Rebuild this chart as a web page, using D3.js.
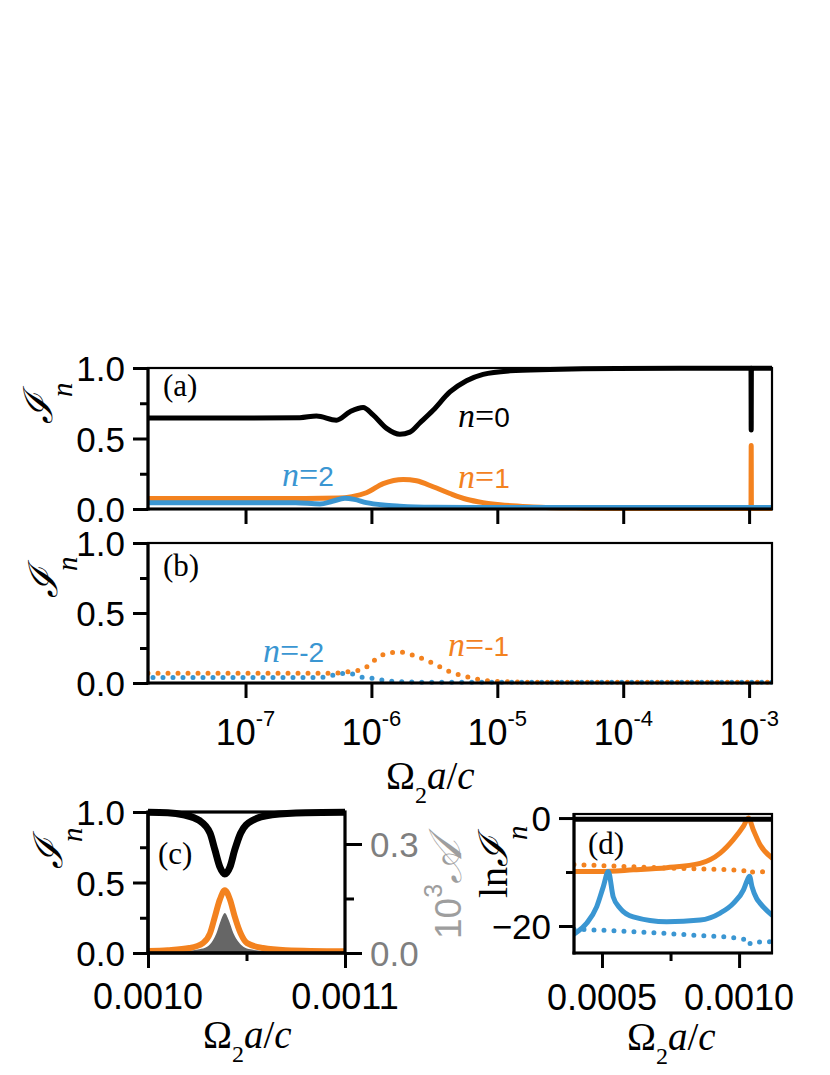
<!DOCTYPE html>
<html><head><meta charset="utf-8">
<script src="https://cdn.jsdelivr.net/npm/d3@7"></script>
<style>body{margin:0;background:#fff} svg{display:block}</style>
</head><body><svg id="chart" width="830" height="1075"></svg>
<script>
// ---------------- DATA ----------------
// panels (a),(b): x = Omega_2 a / c (log scale)
const xLogDomain = [1.68e-8, 1.52e-3];
const xLogTicks = [1e-7, 1e-6, 1e-5, 1e-4, 1e-3];
const xLogTickExp = ["-7", "-6", "-5", "-4", "-3"];
const yIntTicks = [0, 0.5, 1.0];
const yIntMinor = [0.25, 0.75];

const n0A = [[1.68e-8,0.645],[1e-7,0.645],[2.7e-7,0.648],[3.66e-7,0.66],[5.27e-7,0.63],[6.76e-7,0.69],[8.59e-7,0.72],[1.03e-6,0.667],[1.32e-6,0.572],[1.68e-6,0.53],[2.02e-6,0.545],[2.42e-6,0.61],[3.09e-6,0.70],[4.2e-6,0.83],[5.69e-6,0.91],[7.71e-6,0.955],[1.26e-5,0.98],[2.61e-5,0.99],[8.85e-5,0.997],[1.035e-3,0.998],[1.039e-3,0.56],[1.043e-3,0.998],[1.52e-3,0.998]];
const n1A = [[1.68e-8,0.075],[3e-7,0.075],[5.5e-7,0.078],[7e-7,0.088],[9.12e-7,0.115],[1.24e-6,0.18],[1.79e-6,0.21],[2.28e-6,0.20],[3.09e-6,0.158],[4.2e-6,0.11],[5.69e-6,0.069],[7.71e-6,0.045],[1.05e-5,0.03],[1.92e-5,0.015],[4.8e-5,0.006],[1.2e-4,0.003],[1.035e-3,0.003],[1.039e-3,0.45],[1.043e-3,0.003],[1.52e-3,0.003]];
const n2A = [[1.68e-8,0.045],[2.5e-7,0.045],[3.9e-7,0.036],[4.9e-7,0.055],[6.15e-7,0.076],[7.3e-7,0.068],[9.1e-7,0.045],[1.24e-6,0.028],[1.68e-6,0.02],[3.09e-6,0.012],[6e-6,0.01],[1.52e-3,0.01]];
const nm1B = [[1.68e-8,0.07],[5e-7,0.07],[7.1e-7,0.085],[8.6e-7,0.098],[1.0e-6,0.145],[1.16e-6,0.19],[1.4e-6,0.215],[1.68e-6,0.22],[2.28e-6,0.19],[3.09e-6,0.14],[4.2e-6,0.08],[5.69e-6,0.045],[7.71e-6,0.02],[1.05e-5,0.01],[1.92e-5,0.006],[1.52e-3,0.006]];
const nm2B = [[1.68e-8,0.04],[4e-7,0.04],[4.95e-7,0.055],[5.9e-7,0.068],[7.1e-7,0.065],[8.6e-7,0.04],[1.03e-6,0.033],[1.24e-6,0.02],[1.5e-6,0.012],[2.5e-6,0.006],[1.52e-3,0.006]];

// panel (c): linear x
const xCDomain = [0.001, 0.0011];
const xCTicks = [0.001, 0.0011];
const xCTickLabels = ["0.0010", "0.0011"];
const xCMinor = [0.00105];
const yCRightDomain = [0, 0.388];
const yCRightTicks = [0, 0.3];
const yCRightMinor = [0.15];
const n0C = [[0.001,0.998],[0.00101,0.995],[0.001018,0.98],[0.001026,0.94],[0.0010315,0.85],[0.001034,0.73],[0.0010365,0.61],[0.001039,0.56],[0.0010416,0.61],[0.001044,0.73],[0.001047,0.85],[0.001053,0.94],[0.001063,0.98],[0.00108,0.995],[0.0011,0.998]];
const n1C = [[0.001,0.015],[0.00101,0.02],[0.001021,0.035],[0.0010279,0.07],[0.0010315,0.14],[0.001034,0.26],[0.0010365,0.38],[0.001039,0.445],[0.0010416,0.38],[0.001044,0.26],[0.001047,0.14],[0.0010503,0.07],[0.0010584,0.035],[0.00107,0.02],[0.0011,0.012]];
const absC = [[0.001,0.002],[0.00102,0.006],[0.001026,0.01],[0.00103,0.017],[0.001033,0.035],[0.0010348,0.055],[0.001037,0.09],[0.001039,0.11],[0.001041,0.09],[0.0010433,0.055],[0.001046,0.03],[0.0010484,0.017],[0.001052,0.01],[0.00106,0.005],[0.0011,0.002]];

// panel (d): ln I_n
const xDDomain = [0.000398, 0.00112];
const xDTicks = [0.0005, 0.001];
const xDTickLabels = ["0.0005", "0.0010"];
const xDMinor = [0.00075];
const yDDomain = [-25, 0.75];
const yDTicks = [0, -20];
const yDMinor = [-10];
const n0D = [[0.000398,-0.2],[0.00112,-0.2]];
const n1D = [[0.000398,-9.9],[0.000493,-9.9],[0.000614,-9.6],[0.000736,-9.2],[0.000858,-8.4],[0.000931,-6.5],[0.000979,-4.0],[0.001016,-1.5],[0.001034,0],[0.001052,-2.2],[0.001077,-5.0],[0.00112,-7.4]];
const nm1D = [[0.000398,-8.6],[0.0007,-9.2],[0.001,-9.7],[0.00102,-9.8],[0.001032,-10.3],[0.001045,-10.0],[0.00112,-9.9]];
const n2D = [[0.000398,-21.5],[0.000444,-19.5],[0.000481,-16.4],[0.000505,-12.7],[0.000523,-9.9],[0.000541,-14.6],[0.000566,-16.7],[0.000614,-18.3],[0.000736,-19.2],[0.000858,-18.9],[0.000931,-17.6],[0.000979,-15.8],[0.001016,-13.3],[0.00103,-11.5],[0.001038,-10.8],[0.001047,-12.7],[0.001064,-14.9],[0.001077,-15.8],[0.00112,-18.0]];
const nm2D = [[0.000398,-20.6],[0.0006,-21.0],[0.0008,-21.6],[0.001,-22.3],[0.001025,-22.6],[0.001035,-23.5],[0.001045,-23.0],[0.00112,-22.9]];

// ---------------- STYLE ----------------
const ORANGE = "#f3821f", BLUE = "#3a96d2", BLACK = "#000";
const SANS = "'Liberation Sans', Arial, sans-serif";
const SERIF = "'Liberation Serif', 'Times New Roman', serif";

const svg = d3.select("#chart");

function panel(id, box) {
  const g = svg.append("g");
  g.append("clipPath").attr("id", "clip" + id).append("rect")
    .attr("x", box.l).attr("y", box.t - 6).attr("width", box.r - box.l).attr("height", box.b - box.t + 12);
  const data = g.append("g").attr("clip-path", `url(#clip${id})`);
  return {g, data};
}

function lineGen(x, y) {
  return d3.line().x(d => x(d[0])).y(d => y(d[1])).curve(d3.curveMonotoneX);
}

function drawLine(layer, arr, x, y, color, w, dotted, offset) {
  const p = layer.append("path").datum(arr).attr("d", lineGen(x, y))
    .attr("fill", "none").attr("stroke", color).attr("stroke-width", w)
    .attr("stroke-linecap", "round").attr("stroke-linejoin", "round");
  if (dotted) p.attr("stroke-dasharray", "0 10").attr("stroke-dashoffset", offset || 0);
  return p;
}

function frame(g, box, w) {
  g.append("rect").attr("x", box.l).attr("y", box.t).attr("width", box.r - box.l).attr("height", box.b - box.t)
    .attr("fill", "none").attr("stroke", "#000").attr("stroke-width", w || 2.2);
  g.append("line").attr("x1", box.l).attr("x2", box.l).attr("y1", box.t - 1).attr("y2", box.b + 1.5).attr("stroke", "#000").attr("stroke-width", 3.2);
  g.append("line").attr("x1", box.l - 1.5).attr("x2", box.r + 1).attr("y1", box.b).attr("y2", box.b).attr("stroke", "#000").attr("stroke-width", 3.2);
}

function yAxisLeft(g, box, y, ticks, minor, fmt) {
  const ax = g.append("g").attr("transform", `translate(${box.l},0)`)
    .call(d3.axisLeft(y).tickValues(ticks).tickSize(15).tickSizeOuter(0).tickPadding(8).tickFormat(fmt));
  ax.select(".domain").remove();
  ax.selectAll("line").attr("stroke-width", 3);
  ax.selectAll("text").attr("font-family", SANS).attr("font-size", 35).attr("fill", "#000").attr("dy", "0.36em");
  const mn = g.append("g").attr("transform", `translate(${box.l},0)`)
    .call(d3.axisLeft(y).tickValues(minor).tickSize(8).tickSizeOuter(0).tickFormat(""));
  mn.select(".domain").remove();
  mn.selectAll("line").attr("stroke-width", 3);
}

function xAxisBottom(g, box, x, ticks, minor) {
  const ax = g.append("g").attr("transform", `translate(0,${box.b})`)
    .call(d3.axisBottom(x).tickValues(ticks).tickSize(15).tickSizeOuter(0).tickFormat(""));
  ax.select(".domain").remove();
  ax.selectAll("line").attr("stroke-width", 3);
  if (minor && minor.length) {
    const mn = g.append("g").attr("transform", `translate(0,${box.b})`)
      .call(d3.axisBottom(x).tickValues(minor).tickSize(8).tickSizeOuter(0).tickFormat(""));
    mn.select(".domain").remove();
    mn.selectAll("line").attr("stroke-width", 3);
  }
}

function yLabelIn(g, xBase, yBottom, size, lnPrefix) {
  const t = g.append("text").attr("transform", `translate(${xBase},${yBottom}) rotate(-90)`)
    .attr("font-family", SERIF).attr("fill", "#000");
  if (lnPrefix) t.append("tspan").attr("font-size", size).text("ln");
  t.append("tspan").attr("font-size", size).attr("font-style", "italic").attr("font-family", "'DejaVu Serif', serif").text("ℐ");
  t.append("tspan").attr("font-size", size * 0.72).attr("font-style", "italic").attr("dx", -3).attr("dy", size * 0.5).text("n");
}

function omegaTitle(g, xStart, yBase) {
  const t = g.append("text").attr("x", xStart).attr("y", yBase).attr("font-family", SERIF).attr("font-size", 39).attr("fill", "#000");
  t.append("tspan").text("Ω");
  t.append("tspan").attr("font-size", 24).attr("dy", 14).text("2");
  t.append("tspan").attr("dy", -14).attr("font-style", "italic").text("a");
  t.append("tspan").text("/");
  t.append("tspan").attr("font-style", "italic").text("c");
}

function nLabel(g, xx, yy, color, val) {
  const t = g.append("text").attr("x", xx).attr("y", yy).attr("fill", color);
  t.append("tspan").attr("font-family", SERIF).attr("font-style", "italic").attr("font-size", 34).text("n");
  t.append("tspan").attr("font-family", SERIF).attr("font-size", 34).text("=");
  t.append("tspan").attr("font-family", SANS).attr("font-size", 28).text(val);
}

function panelTag(g, xx, yy, txt) {
  g.append("text").attr("x", xx).attr("y", yy).attr("font-family", SERIF).attr("font-size", 31).attr("fill", "#000").text(txt);
}

const f1 = d3.format(".1f");

// ---------------- PANEL (a) ----------------
const boxA = {l: 148, r: 772, t: 368, b: 509};
const xA = d3.scaleLog().domain(xLogDomain).range([boxA.l, boxA.r]);
const yA = d3.scaleLinear().domain([0, 1]).range([boxA.b, boxA.t]);
{
  const {g, data} = panel("a", boxA);
  drawLine(data, n0A, xA, yA, BLACK, 5);
  drawLine(data, n1A, xA, yA, ORANGE, 5);
  drawLine(data, n2A, xA, yA, BLUE, 5);
  frame(g, boxA);
  yAxisLeft(g, boxA, yA, yIntTicks, yIntMinor, f1);
  xAxisBottom(g, boxA, xA, xLogTicks, []);
  panelTag(g, 163, 396, "(a)");
  nLabel(g, 458, 427, BLACK, "0");
  nLabel(g, 458, 488, ORANGE, "1");
  nLabel(g, 282, 486, BLUE, "2");
  yLabelIn(g, 52, 424, 40, false);
}

// ---------------- PANEL (b) ----------------
const boxB = {l: 148, r: 772, t: 543, b: 683};
const xB = d3.scaleLog().domain(xLogDomain).range([boxB.l, boxB.r]);
const yB = d3.scaleLinear().domain([0, 1]).range([boxB.b, boxB.t]);
{
  const {g, data} = panel("b", boxB);
  drawLine(data, nm1B, xB, yB, ORANGE, 5, true, 0);
  drawLine(data, nm2B, xB, yB, BLUE, 5, true, 5);
  frame(g, boxB);
  yAxisLeft(g, boxB, yB, yIntTicks, yIntMinor, f1);
  xAxisBottom(g, boxB, xB, xLogTicks, []);
  const lab = g.append("g");
  xLogTicks.forEach((v, i) => {
    const t = lab.append("text").attr("x", xB(v)).attr("y", 745).attr("text-anchor", "middle")
      .attr("font-family", SANS).attr("font-size", 36).attr("fill", "#000");
    t.append("tspan").text("10");
    t.append("tspan").attr("font-size", 22).attr("dy", -19).text(xLogTickExp[i]);
  });
  panelTag(g, 163, 576, "(b)");
  nLabel(g, 263, 662, BLUE, "-2");
  nLabel(g, 448, 656, ORANGE, "-1");
  yLabelIn(g, 57, 598, 40, false);
  omegaTitle(g, 386, 789);
}

// ---------------- PANEL (c) ----------------
const boxC = {l: 148, r: 345, t: 812, b: 953};
const xC = d3.scaleLinear().domain(xCDomain).range([boxC.l, boxC.r]);
const yC = d3.scaleLinear().domain([0, 1]).range([boxC.b, boxC.t]);
const yC2 = d3.scaleLinear().domain(yCRightDomain).range([boxC.b, boxC.t]);
{
  const {g, data} = panel("c", boxC);
  data.append("path").datum(absC)
    .attr("d", d3.area().x(d => xC(d[0])).y0(yC2(0)).y1(d => yC2(d[1])).curve(d3.curveMonotoneX))
    .attr("fill", "#666666");
  drawLine(data, n1C, xC, yC, ORANGE, 6);
  drawLine(data, n0C, xC, yC, BLACK, 7);
  frame(g, boxC, 3.2);
  yAxisLeft(g, boxC, yC, yIntTicks, yIntMinor, f1);
  xAxisBottom(g, boxC, xC, xCTicks, xCMinor);
  xCTicks.forEach((v, i) => {
    g.append("text").attr("x", xC(v)).attr("y", 1009).attr("text-anchor", "middle")
      .attr("font-family", SANS).attr("font-size", 36).attr("fill", "#000").text(xCTickLabels[i]);
  });
  const ra = g.append("g").attr("transform", `translate(${boxC.r},0)`)
    .call(d3.axisRight(yC2).tickValues(yCRightTicks).tickSize(17).tickSizeOuter(0).tickPadding(8).tickFormat(f1));
  ra.select(".domain").remove();
  ra.selectAll("line").attr("stroke-width", 3);
  ra.selectAll("text").attr("font-family", SANS).attr("font-size", 35).attr("fill", "#7f7f7f").attr("dy", "0.36em");
  const rm = g.append("g").attr("transform", `translate(${boxC.r},0)`)
    .call(d3.axisRight(yC2).tickValues(yCRightMinor).tickSize(9).tickSizeOuter(0).tickFormat(""));
  rm.select(".domain").remove();
  rm.selectAll("line").attr("stroke-width", 3);
  const rl = g.append("text").attr("transform", "translate(461,939) rotate(-90)")
    .attr("font-family", SANS).attr("fill", "#9e9e9e");
  rl.append("tspan").attr("font-size", 37).text("10");
  rl.append("tspan").attr("font-size", 25).attr("dy", -19).text("3");
  rl.append("tspan").attr("font-size", 46).attr("dy", 19).attr("font-style", "italic").attr("font-family", SERIF).text("𝒜");
  panelTag(g, 158, 864, "(c)");
  yLabelIn(g, 62, 869, 40, false);
  omegaTitle(g, 203, 1048);
}

// ---------------- PANEL (d) ----------------
const boxD = {l: 574, r: 772, t: 814, b: 953};
const xD = d3.scaleLinear().domain(xDDomain).range([boxD.l, boxD.r]);
const yD = d3.scaleLinear().domain(yDDomain).range([boxD.b, boxD.t]);
{
  const {g, data} = panel("d", boxD);
  drawLine(data, nm1D, xD, yD, ORANGE, 5, true, 0);
  drawLine(data, nm2D, xD, yD, BLUE, 5, true, 0);
  drawLine(data, n1D, xD, yD, ORANGE, 5);
  drawLine(data, n2D, xD, yD, BLUE, 5);
  drawLine(data, n0D, xD, yD, BLACK, 5);
  frame(g, boxD);
  yAxisLeft(g, boxD, yD, yDTicks, yDMinor, d3.format("d"));
  xAxisBottom(g, boxD, xD, xDTicks, xDMinor);
  xDTicks.forEach((v, i) => {
    g.append("text").attr("x", xD(v)).attr("y", 1010).attr("text-anchor", "middle")
      .attr("font-family", SANS).attr("font-size", 36).attr("fill", "#000").text(xDTickLabels[i]);
  });
  panelTag(g, 588, 854, "(d)");
  yLabelIn(g, 507, 898, 40, true);
  omegaTitle(g, 627, 1050);
}
</script></body></html>
